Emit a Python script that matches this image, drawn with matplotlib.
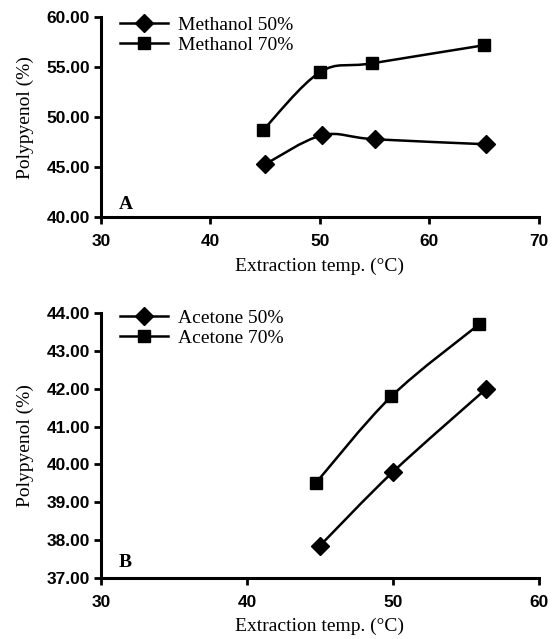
import numpy as np
import matplotlib.pyplot as plt
from matplotlib.path import Path
from matplotlib.patches import PathPatch
from matplotlib.ticker import FormatStrFormatter

# panel A: methanol
temp_m50 = [45.0, 50.2, 55.0, 65.2]
meth_50 = [45.3, 48.2, 47.8, 47.3]
temp_m70 = [44.8, 50.0, 54.8, 65.0]
meth_70 = [48.7, 54.5, 55.4, 57.2]

# panel B: acetone
temp_a50 = [45.0, 50.0, 56.4]
acet_50 = [37.85, 39.8, 42.0]
temp_a70 = [44.7, 49.9, 55.9]
acet_70 = [39.5, 41.8, 43.7]

SERIF = 'Liberation Serif'
SANS = 'Liberation Sans'


def smooth_path(x, y):
    # excel-style smoothed line: cubic bezier, catmull-rom control points
    p = np.column_stack([x, y])
    n = len(p)
    verts = [p[0]]
    codes = [Path.MOVETO]
    for i in range(n - 1):
        p0 = p[i - 1] if i > 0 else p[i]
        p3 = p[i + 2] if i + 2 < n else p[i + 1]
        c1 = p[i] + (p[i + 1] - p0) / 6.0
        c2 = p[i + 1] - (p3 - p[i]) / 6.0
        verts += [c1, c2, p[i + 1]]
        codes += [Path.CURVE4] * 3
    return Path(verts, codes)


def draw_series(ax, x, y, marker, ms, label):
    ax.add_patch(PathPatch(smooth_path(x, y), fill=False, lw=1.8,
                           edgecolor='black', zorder=2))
    ax.plot(x, y, linestyle='none', marker=marker, ms=ms, color='black',
            zorder=3)
    # legend proxy
    ax.plot([], [], '-', marker=marker, ms=ms, color='black', lw=1.8,
            label=label)


def style_axes(ax, xlim, xticks, ylim, yticks, letter):
    ax.set_xlim(xlim)
    ax.set_ylim(ylim)
    ax.set_xticks(xticks)
    ax.set_yticks(yticks)
    ax.yaxis.set_major_formatter(FormatStrFormatter('%.2f'))
    for s in ['top', 'right']:
        ax.spines[s].set_visible(False)
    for s in ['left', 'bottom']:
        ax.spines[s].set_linewidth(2.2)
    ax.tick_params(direction='out', length=5, width=2.0)
    ax.tick_params(axis='x', pad=7)
    ax.tick_params(axis='y', pad=3)
    for lab in ax.get_xticklabels() + ax.get_yticklabels():
        lab.set_fontfamily(SANS)
        lab.set_fontweight('bold')
        lab.set_fontsize(12.5)
    ax.set_xlabel('Extraction temp. (°C)', family=SERIF, fontsize=14,
                  labelpad=6)
    ax.set_ylabel('Polypyenol (%)', family=SERIF, fontsize=14, labelpad=9)
    ax.text(0.04, 0.04, letter, transform=ax.transAxes, family=SERIF,
            fontweight='bold', fontsize=14)
    ax.legend(loc='upper left', frameon=False, handlelength=2.5,
              borderaxespad=0.0, bbox_to_anchor=(0.025, 1.045),
              handletextpad=0.5, labelspacing=0.15,
              prop={'family': SERIF, 'size': 14})


fig = plt.figure(figsize=(5.52, 6.39), dpi=100)
axA = fig.add_axes([0.183, 0.660, 0.793, 0.313])
axB = fig.add_axes([0.183, 0.0955, 0.793, 0.4145])

draw_series(axA, temp_m50, meth_50, 'D', 9, 'Methanol 50%')
draw_series(axA, temp_m70, meth_70, 's', 8.5, 'Methanol 70%')
style_axes(axA, (30, 70), [30, 40, 50, 60, 70], (40, 60),
           [40, 45, 50, 55, 60], 'A')

draw_series(axB, temp_a50, acet_50, 'D', 9, 'Acetone 50%')
draw_series(axB, temp_a70, acet_70, 's', 8.5, 'Acetone 70%')
style_axes(axB, (30, 60), [30, 40, 50, 60], (37, 44),
           [37, 38, 39, 40, 41, 42, 43, 44], 'B')

fig.savefig('out.png', dpi=100)
